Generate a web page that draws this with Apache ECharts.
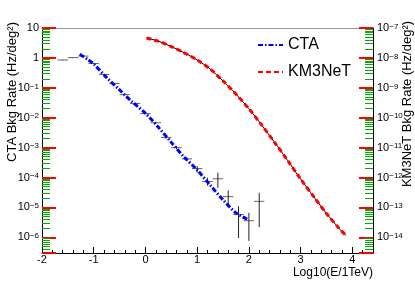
<!DOCTYPE html>
<html><head><meta charset="utf-8">
<script src="https://cdn.jsdelivr.net/npm/echarts@6/dist/echarts.min.js"></script>
<style>html,body{margin:0;padding:0;background:#fff}#c{width:415px;height:282px}</style>
</head><body><div id="c"></div>
<script>
// CTA background rate curve (left axis, Hz/deg^2)
const ctaX = [-1.27, -1.1, -1.0, -0.75, -0.5, -0.25, 0.0, 0.25, 0.5, 0.75, 1.0, 1.25, 1.5, 1.75, 2.0];
const ctaY = [1.32, 0.85, 0.63, 0.22, 0.085, 0.033, 0.0141, 0.0048, 0.0015, 4.8e-4, 1.8e-4, 5.6e-5, 1.8e-5, 6.6e-6, 3.8e-6];
// KM3NeT background rate curve (right axis, Hz/deg^2)
const km3X = [0.02, 0.25, 0.5, 0.75, 1.0, 1.25, 1.5, 1.75, 2.0, 2.25, 2.5, 2.75, 3.0, 3.25, 3.5, 3.75, 3.88];
const km3Y = [4.6e-8, 3.63e-8, 2.4e-8, 1.48e-8, 8.5e-9, 4.27e-9, 1.7e-9, 6.17e-10, 2.0e-10, 5.62e-11, 1.48e-11, 3.72e-12, 8.9e-13, 2.34e-13, 6.3e-14, 1.95e-14, 1.15e-14];
// CTA binned points with error bars (left axis)
const ptsX  = [-1.6, -1.4, -1.2, -1.0, -0.8, -0.6, -0.4, -0.2, 0.0, 0.2, 0.4, 0.6, 0.8, 1.0, 1.2, 1.4, 1.6, 1.8, 2.0, 2.2];
const ptsY  = [0.85, 1.02, 1.15, 0.65, 0.28, 0.14, 0.059, 0.030, 0.0138, 0.0068, 0.0022, 0.0010, 4.2e-4, 2.0e-4, 7.4e-5, 9.1e-5, 2.3e-5, 5.8e-6, 3.6e-6, 1.6e-5];
const ptsLo = [0.83, 1.0, 1.12, 0.63, 0.27, 0.135, 0.056, 0.028, 0.0130, 0.0063, 0.0020, 0.00088, 3.7e-4, 1.45e-4, 5.4e-5, 4.5e-5, 1.15e-5, 9.5e-7, 7.6e-7, 2.2e-6];
const ptsHi = [0.87, 1.04, 1.18, 0.67, 0.29, 0.145, 0.062, 0.032, 0.0146, 0.0073, 0.0024, 0.00114, 4.8e-4, 2.4e-4, 9.8e-5, 1.45e-4, 3.7e-5, 1.1e-5, 6.6e-6, 3.1e-5];
const ptsXErr = [0.1, 0.1, 0.1, 0.1, 0.1, 0.1, 0.1, 0.1, 0.1, 0.1, 0.1, 0.1, 0.1, 0.1, 0.1, 0.1, 0.1, 0.1, 0.1, 0.1];
const xRange = [-2, 4.4];
const leftRange = [3e-7, 10];
const rightRange = [3e-15, 1e-7];
const seriesNames = ['CTA', 'KM3NeT'];
const leftTitle = 'CTA Bkg Rate (Hz/deg²)';
const rightTitle = 'KM3NeT Bkg Rate (Hz/deg²)';
const xTitle = 'Log10(E/1TeV)';

const FONT = 'Liberation Sans, Arial, sans-serif';
function powLabel(v) {
  const e = Math.round(Math.log10(v));
  if (e === 0) return '{b|1}';
  if (e === 1) return '{b|10}';
  return '{b|10}{s|' + (e < 0 ? '−' : '') + Math.abs(e) + '}';
}
const rich = {
  b: { fontSize: 11, fontFamily: FONT, color: '#000' },
  s: { fontSize: 8, fontFamily: FONT, color: '#000', verticalAlign: 'top', padding: [0, 0, 3, 0] }
};
function yAxisCfg(range, pos) {
  return {
    type: 'log', logBase: 10, min: range[0], max: range[1], splitNumber: 7, position: pos,
    axisLine: { show: true, onZero: false, lineStyle: { color: '#000', width: 1 } },
    axisTick: { show: true, inside: true, length: 14, lineStyle: { color: '#f00', width: 2 } },
    minorTick: { show: true, splitNumber: 9, length: 8, lineStyle: { color: '#0a0', width: 1 } },
    splitLine: { show: false },
    axisLabel: { formatter: powLabel, rich: rich, margin: pos === 'left' ? 3 : 4, showMinLabel: false }
  };
}

const chart = echarts.init(document.getElementById('c'), null, { renderer: 'canvas' });
chart.setOption({
  animation: false,
  backgroundColor: '#fff',
  grid: { left: 42, right: 42, top: 28, bottom: 29, outerBoundsMode: 'none' },
  legend: {
    orient: 'vertical', left: 252, top: 32, itemGap: 11, itemWidth: 25, itemHeight: 14,
    itemStyle: { opacity: 0 },
    textStyle: { fontSize: 16, fontFamily: FONT, color: '#000' },
    data: seriesNames
  },
  xAxis: [{
    type: 'value', min: xRange[0], max: xRange[1], interval: 1,
    axisLine: { show: true, onZero: false, lineStyle: { color: '#000', width: 1 } },
    axisTick: { show: true, inside: true, length: 6, lineStyle: { color: '#000' } },
    minorTick: { show: true, splitNumber: 5, length: 3, lineStyle: { color: '#000' } },
    splitLine: { show: false },
    axisLabel: { fontSize: 11, fontFamily: FONT, color: '#000', margin: 1, showMaxLabel: false }
  }, {
    type: 'value', min: xRange[0], max: xRange[1], position: 'top',
    axisLine: { show: true, onZero: false, lineStyle: { color: '#999', width: 1 } },
    axisTick: { show: false }, axisLabel: { show: false }, splitLine: { show: false }
  }],
  yAxis: [yAxisCfg(leftRange, 'left'), yAxisCfg(rightRange, 'right')],
  graphic: [
    { type: 'text', x: 12, y: 92, rotation: Math.PI / 2, style: { text: leftTitle, fontSize: 13, fontFamily: FONT, fill: '#000', align: 'center', verticalAlign: 'middle' } },
    { type: 'text', x: 407, y: 104, rotation: Math.PI / 2, style: { text: rightTitle, fontSize: 13, fontFamily: FONT, fill: '#000', align: 'center', verticalAlign: 'middle' } },
    { type: 'text', x: 373, y: 273, style: { text: xTitle, fontSize: 12, fontFamily: FONT, fill: '#000', align: 'right', verticalAlign: 'middle' } }
  ],
  series: [
    {
      name: 'points', type: 'custom', yAxisIndex: 0, z: 3,
      data: ptsX.map((x, i) => [x, ptsY[i], ptsLo[i], ptsHi[i], ptsXErr[i]]),
      renderItem: function (params, api) {
        const x = api.value(0), y = api.value(1), lo = api.value(2), hi = api.value(3), ex = api.value(4);
        const l = api.coord([x - ex, y]), r = api.coord([x + ex, y]);
        const b = api.coord([x, lo]), t = api.coord([x, hi]);
        return { type: 'group', children: [
          { type: 'line', shape: { x1: l[0], y1: l[1], x2: r[0], y2: r[1] }, style: { stroke: '#666', lineWidth: 1 } },
          { type: 'line', shape: { x1: b[0], y1: b[1], x2: t[0], y2: t[1] }, style: { stroke: '#222', lineWidth: 1 } }
        ] };
      }
    },
    {
      name: 'CTA', type: 'line', yAxisIndex: 0, z: 4, symbol: 'none', smooth: 0.3,
      data: ctaX.map((x, i) => [x, ctaY[i]]),
      lineStyle: { color: '#0000ff', width: 3, type: [5, 2, 1.5, 2] },
      itemStyle: { color: '#0000ff' }
    },
    {
      name: 'km3line', type: 'line', yAxisIndex: 1, z: 4, symbol: 'none', smooth: 0.3,
      data: km3X.map((x, i) => [x, km3Y[i]]),
      lineStyle: { color: '#000', width: 1 }
    },
    {
      name: 'KM3NeT', type: 'line', yAxisIndex: 1, z: 5, symbol: 'none', smooth: 0.3,
      data: km3X.map((x, i) => [x, km3Y[i]]),
      lineStyle: { color: '#ff0000', width: 3, type: [5, 3] },
      itemStyle: { color: '#ff0000' }
    }
  ]
});
</script></body></html>
